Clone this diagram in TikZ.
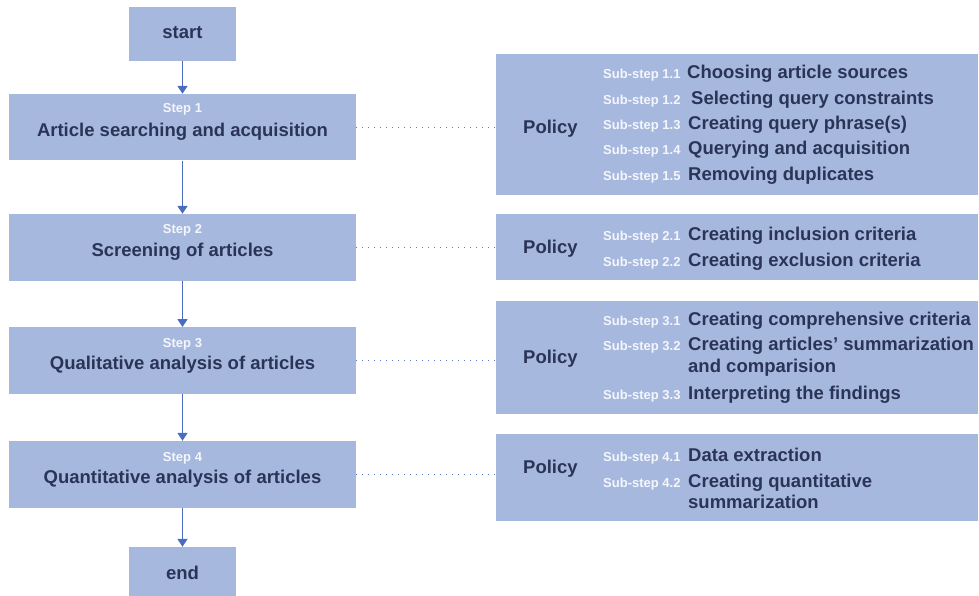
\documentclass[tikz,border=0pt]{standalone}
\usepackage{fontspec}
\setmainfont{Liberation Sans}
\usetikzlibrary{arrows.meta}
\definecolor{boxfill}{HTML}{A7B8DF}
\definecolor{ink}{HTML}{2A3457}
\definecolor{lbl}{HTML}{F4F6FB}
\definecolor{arrc}{HTML}{4A6DBE}
\definecolor{dotc}{HTML}{5A78BE}
\tikzset{
  box/.style={fill=boxfill, draw=none, inner sep=0pt},
  big/.style={text=ink, font=\fontsize{18.5}{20}\selectfont\bfseries, inner sep=0pt},
  small/.style={text=lbl, font=\fontsize{13}{14}\selectfont\bfseries, inner sep=0pt},
  arr/.style={draw=arrc, line width=1.5pt, -{Triangle[length=8pt,width=10pt]}},
  dotline/.style={draw=dotc, line width=1pt, dash pattern=on 1pt off 5pt},
}
\begin{document}
\begin{tikzpicture}[x=1pt,y=-1pt]
\useasboundingbox (0,0) rectangle (979,596);
% left column boxes
\node[box, minimum width=107pt, minimum height=54pt] (start) at (182.5,34) {};
\node[big, anchor=base] (tstart) at (182.5,39) {start};
\node[box, minimum width=347pt, minimum height=66.5pt] (s1) at (182.5,127.25) {};
\node[small, anchor=base] (l1) at (182.5,113) {Step 1};
\node[big, anchor=base] (t1) at (182.5,137) {Article searching and acquisition};
\node[box, minimum width=347pt, minimum height=66.5pt] (s2) at (182.5,247.25) {};
\node[small, anchor=base] (l2) at (182.5,233) {Step 2};
\node[big, anchor=base] (t2) at (182.5,256) {Screening of articles};
\node[box, minimum width=347pt, minimum height=66.5pt] (s3) at (182.5,360.5) {};
\node[small, anchor=base] (l3) at (182.5,347) {Step 3};
\node[big, anchor=base] (t3) at (182.5,369.5) {Qualitative analysis of articles};
\node[box, minimum width=347pt, minimum height=66.5pt] (s4) at (182.5,474.25) {};
\node[small, anchor=base] (l4) at (182.5,461) {Step 4};
\node[big, anchor=base] (t4) at (182.5,483) {Quantitative analysis of articles};
\node[box, minimum width=107pt, minimum height=49pt] (end) at (182.5,571.5) {};
\node[big, anchor=base] (tend) at (182.5,579) {end};
% arrows
\draw[arr] (start) -- (s1);
\draw[arr] (s1) -- (s2);
\draw[arr] (s2) -- (s3);
\draw[arr] (s3) -- (s4);
\draw[arr] (s4) -- (end);
% policy boxes
\node[box, minimum width=482pt, minimum height=141pt] (p1) at (737,124.5) {};
\node[box, minimum width=482pt, minimum height=66pt] (p2) at (737,247) {};
\node[box, minimum width=482pt, minimum height=113pt] (p3) at (737,357.5) {};
\node[box, minimum width=482pt, minimum height=87pt] (p4) at (737,477.5) {};
% dotted links
\draw[dotline] (s1.east) -- (s1.east -| p1.west);
\draw[dotline] (s2.east) -- (s2.east -| p2.west);
\draw[dotline] (s3.east) -- (s3.east -| p3.west);
\draw[dotline] (s4.east) -- (s4.east -| p4.west);
% policy 1
\node[big, anchor=base west] (pol1) at (523,134) {Policy};
\node[small, anchor=base west] (a11) at (603,79) {Sub-step 1.1};
\node[big, anchor=base west] (b11) at (687,79) {Choosing article sources};
\node[small, anchor=base west] (a12) at (603,105) {Sub-step 1.2};
\node[big, anchor=base west] (b12) at (691,105) {Selecting query constraints};
\node[small, anchor=base west] (a13) at (603,130) {Sub-step 1.3};
\node[big, anchor=base west] (b13) at (688,130) {Creating query phrase(s)};
\node[small, anchor=base west] (a14) at (603,155) {Sub-step 1.4};
\node[big, anchor=base west] (b14) at (688,155) {Querying and acquisition};
\node[small, anchor=base west] (a15) at (603,181) {Sub-step 1.5};
\node[big, anchor=base west] (b15) at (688,181) {Removing duplicates};
% policy 2
\node[big, anchor=base west] (pol2) at (523,253) {Policy};
\node[small, anchor=base west] (a21) at (603,240) {Sub-step 2.1};
\node[big, anchor=base west] (b21) at (688,240) {Creating inclusion criteria};
\node[small, anchor=base west] (a22) at (603,266) {Sub-step 2.2};
\node[big, anchor=base west] (b22) at (688,266) {Creating exclusion criteria};
% policy 3
\node[big, anchor=base west] (pol3) at (523,363) {Policy};
\node[small, anchor=base west] (a31) at (603,325) {Sub-step 3.1};
\node[big, anchor=base west] (b31) at (688,325) {Creating comprehensive criteria};
\node[small, anchor=base west] (a32) at (603,350) {Sub-step 3.2};
\node[big, anchor=base west] (b32) at (688,350) {Creating articles’ summarization};
\node[big, anchor=base west] (b32b) at (688,372) {and comparision};
\node[small, anchor=base west] (a33) at (603,399) {Sub-step 3.3};
\node[big, anchor=base west] (b33) at (688,399) {Interpreting the findings};
% policy 4
\node[big, anchor=base west] (pol4) at (523,473) {Policy};
\node[small, anchor=base west] (a41) at (603,461) {Sub-step 4.1};
\node[big, anchor=base west] (b41) at (688,461) {Data extraction};
\node[small, anchor=base west] (a42) at (603,487) {Sub-step 4.2};
\node[big, anchor=base west] (b42) at (688,487) {Creating quantitative};
\node[big, anchor=base west] (b42b) at (688,508) {summarization};
\end{tikzpicture}
\end{document}
